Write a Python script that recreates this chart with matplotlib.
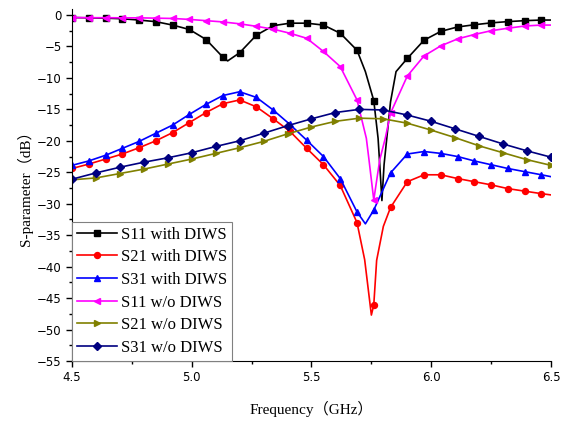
import sys
import numpy as np
import matplotlib
matplotlib.use('Agg')
import matplotlib.pyplot as plt
from matplotlib.ticker import MultipleLocator


# marker frequencies (GHz)
freq_a = [4.50, 4.57, 4.64, 4.71, 4.78, 4.85, 4.92, 4.99, 5.06, 5.13,
          5.20, 5.27, 5.34, 5.41, 5.48, 5.55, 5.62, 5.69, 5.76, 5.83,
          5.90, 5.97, 6.04, 6.11, 6.18, 6.25, 6.32, 6.39, 6.46]
freq_b = [4.5, 4.6, 4.7, 4.8, 4.9, 5.0, 5.1, 5.2, 5.3, 5.4, 5.5,
          5.6, 5.7, 5.8, 5.9, 6.0, 6.1, 6.2, 6.3, 6.4, 6.5]

# with DIWS (markers on freq_a)
s11_with = [-0.4, -0.45, -0.5, -0.6, -0.8, -1.06, -1.6, -2.3, -3.9, -6.7,
            -6.0, -3.2, -1.7, -1.3, -1.3, -1.6, -2.9, -5.6, -13.6, -13.8,
            -6.9, -4.0, -2.6, -1.9, -1.55, -1.25, -1.05, -0.9, -0.8]
s21_with = [-24.4, -23.7, -22.9, -22.1, -21.1, -20.0, -18.7, -17.1, -15.5, -14.1,
            -13.5, -14.6, -16.5, -18.5, -21.2, -23.8, -27.1, -33.0, -46.1, -30.6,
            -26.5, -25.4, -25.4, -26.0, -26.5, -27.0, -27.6, -28.0, -28.4]
s31_with = [-23.9, -23.2, -22.3, -21.2, -20.1, -18.8, -17.5, -15.8, -14.2, -12.8,
            -12.2, -13.1, -15.1, -17.4, -19.9, -22.5, -26.0, -31.3, -31.0, -25.1,
            -22.1, -21.7, -22.0, -22.5, -23.2, -23.8, -24.4, -24.9, -25.4]
# without DIWS
s11_wo = [-0.4, -0.43, -0.43, -0.45, -0.45, -0.5, -0.55, -0.7, -0.9, -1.1,
          -1.4, -1.8, -2.25, -2.9, -3.7, -5.8, -8.2, -13.5, -29.4, -15.6,
          -9.7, -6.5, -4.9, -3.8, -3.1, -2.5, -2.1, -1.75, -1.6]
s21_wo = [-26.2, -25.9, -25.2, -24.5, -23.7, -22.9, -22.0, -21.1, -20.1, -18.9, -17.8,
          -16.9, -16.4, -16.5, -17.2, -18.3, -19.5, -20.8, -21.9, -23.0, -23.9]
s31_wo = [-26.1, -25.1, -24.2, -23.4, -22.7, -21.9, -20.9, -20.0, -18.8, -17.6, -16.5,
          -15.5, -15.0, -15.1, -15.9, -16.9, -18.1, -19.3, -20.5, -21.6, -22.6]

# extra line-only points (resonance dips, curve ends)
s11_with_extra = ([5.15, 5.725, 5.778, 5.785, 5.794, 5.803, 5.853, 6.5],
                  [-7.3, -9.0, -19.6, -23.8, -29.5, -23.8, -9.0, -0.8])
s21_with_extra = ([5.722, 5.75, 5.772, 5.80, 6.5],
                  [-38.9, -47.7, -39.0, -33.6, -28.6])
s31_with_extra = ([5.725, 6.5], [-33.2, -25.7])
s11_wo_extra = ([5.729, 5.74, 5.785, 5.808, 6.5],
                [-19.6, -23.0, -23.0, -19.6, -1.6])
# marker not visible in the original plot (hidden behind the S11 w/o curve)
s11_with_hidden = [19]

labels = ['S11 with DIWS', 'S21 with DIWS', 'S31 with DIWS',
          'S11 w/o DIWS', 'S21 w/o DIWS', 'S31 w/o DIWS']
colors = ['#000000', '#FF0000', '#0000FF', '#FF00FF', '#808000', '#000080']
markers = ['s', 'o', '^', '<', '>', 'D']


def merge(fm, vm, extra=None, hidden=()):
    f = list(fm)
    v = list(vm)
    if extra is not None:
        f += list(extra[0])
        v += list(extra[1])
    f = np.array(f)
    v = np.array(v)
    order = np.argsort(f, kind='stable')
    f, v = f[order], v[order]
    # merged point j is a marker point if it came from fm
    mk = [j for j, o in enumerate(order) if o < len(fm) and o not in hidden]
    return f, v, mk


def main():
    series = [
        merge(freq_a, s11_with, s11_with_extra, s11_with_hidden),
        merge(freq_a, s21_with, s21_with_extra),
        merge(freq_a, s31_with, s31_with_extra),
        merge(freq_a, s11_wo, s11_wo_extra),
        merge(freq_b, s21_wo),
        merge(freq_b, s31_wo),
    ]

    fig = plt.figure(figsize=(5.66, 4.23), dpi=100)
    ax = fig.add_axes([0.1272, 0.1466, 0.8463, 0.8328])

    for (f, v, mk), lab, c, m in zip(series, labels, colors, markers):
        ms = 3.8 if m == 'D' else 4.3
        ax.plot(f, v, color=c, lw=1.2, marker=m, markersize=ms,
                markevery=mk, label=lab)

    ax.set_xlim(4.5, 6.5)
    ax.set_ylim(-55, 1)
    ax.xaxis.set_major_locator(MultipleLocator(0.5))
    ax.xaxis.set_minor_locator(MultipleLocator(0.25))
    ax.yaxis.set_major_locator(MultipleLocator(5))
    ax.yaxis.set_minor_locator(MultipleLocator(2.5))
    ax.xaxis.set_major_formatter(plt.FormatStrFormatter('%.1f'))
    ax.tick_params(which='major', direction='out', length=4, width=1, labelsize=8.5)
    ax.tick_params(which='minor', direction='out', length=2.5, width=1)
    ax.spines['top'].set_visible(False)
    ax.spines['right'].set_visible(False)

    lab_font = ['Liberation Serif', 'Noto Sans CJK SC']
    ax.set_xlabel('Frequency（GHz）', family=lab_font, fontsize=11, labelpad=12)
    ax.set_ylabel('S-parameter（dB）', family=lab_font, fontsize=11, labelpad=3)

    leg = ax.legend(loc='lower left', bbox_to_anchor=(0, 0), borderaxespad=0,
                    prop={'family': 'Liberation Serif', 'size': 12},
                    fancybox=False, edgecolor='#808080', framealpha=1,
                    handlelength=2.4, handletextpad=0.25, labelspacing=0.4,
                    borderpad=0.3)
    leg.get_frame().set_linewidth(0.8)

    fig.savefig('out.png', dpi=100)
    return 0


if __name__ == '__main__':
    sys.exit(main())
